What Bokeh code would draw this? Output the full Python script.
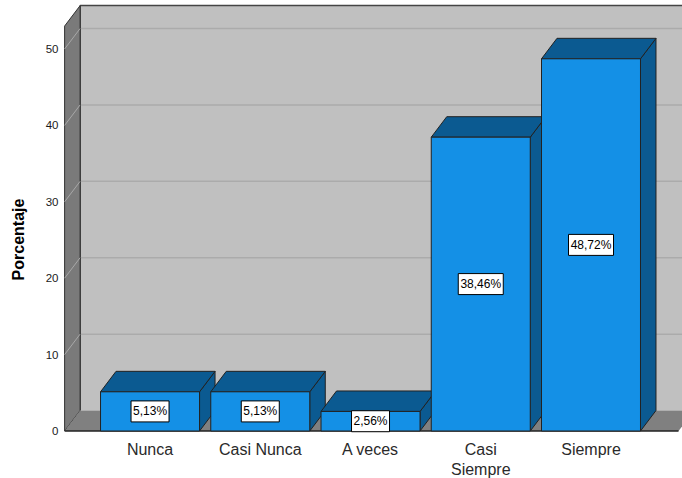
from bokeh.plotting import figure
from bokeh.models import ColumnDataSource, Range1d, FixedTicker
from bokeh.core.properties import value
from bokeh.embed import file_html
from bokeh.resources import INLINE

# ---- data ----
categories = ["Nunca", "Casi Nunca", "A veces", "Casi Siempre", "Siempre"]
tick_text = ["Nunca", "Casi Nunca", "A veces", "Casi\nSiempre", "Siempre"]
percent = [5.13, 5.13, 2.56, 38.46, 48.72]
y_ticks = [0, 10, 20, 30, 40, 50]

# ---- 3D geometry / style ----
W = 0.449        # half bar width (category units)
DX = 0.1406      # depth offset x
DY = 2.68        # depth offset y (value units)
X0 = -0.775      # front-left of side wall
XR = 4.794       # front-right of floor
XE = 5.2         # beyond right edge
WALL = 53.0      # wall height
LABEL_Y = -1.35  # top of category labels (value units, below floor)

FRONT = "#1490e6"
DARK = "#0b5a91"
EDGE = "#222222"
FONT = "Liberation Sans"

p = figure(width=682, height=478, output_backend="svg", toolbar_location=None,
           x_range=Range1d(-0.785, 4.830), y_range=Range1d(-6.217, 56.35),
           min_border_left=63, min_border_right=0, min_border_top=0,
           min_border_bottom=0)
p.outline_line_color = None
p.grid.visible = False
p.background_fill_color = "white"
p.xaxis.visible = False

# back wall
p.quad(left=X0 + DX, right=XE, bottom=DY, top=WALL + DY,
       fill_color="#c0c0c0", line_color=None)
# back wall grid lines
for t in y_ticks[1:]:
    p.segment(x0=X0 + DX, y0=t + DY, x1=XE, y1=t + DY,
              line_color="#ababab", line_width=1.5)
# back wall top edge and left edge
p.segment(x0=X0 + DX, y0=WALL + DY, x1=XE, y1=WALL + DY,
          line_color="#444444", line_width=1.5)
p.segment(x0=X0 + DX, y0=DY, x1=X0 + DX, y1=WALL + DY,
          line_color="#333333", line_width=1.5)

# side wall
p.patch(x=[X0, X0, X0 + DX, X0 + DX], y=[0, WALL, WALL + DY, DY],
        fill_color="#7a7a7a", line_color="#333333", line_width=1)
for t in y_ticks[1:]:
    p.segment(x0=X0, y0=t, x1=X0 + DX, y1=t + DY,
              line_color="#a8a8a8", line_width=1)

# floor
p.patch(x=[X0, XR, XR + DX, X0 + DX], y=[0, 0, DY, DY],
        fill_color="#808080", line_color=None)
p.segment(x0=X0, y0=0, x1=XR, y1=0, line_color="#222222", line_width=1.5)

# ---- bars ----
xs = list(range(len(categories)))
side_xs, side_ys, top_xs, top_ys = [], [], [], []
for i, v in zip(xs, percent):
    side_xs.append([i + W, i + W + DX, i + W + DX, i + W])
    side_ys.append([0, DY, v + DY, v])
    top_xs.append([i - W, i + W, i + W + DX, i - W + DX])
    top_ys.append([v, v, v + DY, v + DY])

p.patches(xs=side_xs, ys=side_ys, fill_color=DARK, line_color=EDGE, line_width=1)
p.patches(xs=top_xs, ys=top_ys, fill_color=DARK, line_color=EDGE, line_width=1)
p.quad(left=[i - W for i in xs], right=[i + W for i in xs],
       bottom=0, top=percent, fill_color=FRONT, line_color=EDGE, line_width=1)

# ---- value labels ----
labels = [f"{v:.2f}".replace(".", ",") + "%" for v in percent]
lab_src = ColumnDataSource(dict(
    x=xs, y=[v / 2 for v in percent], text=labels,
    w=[7 * len(s) + 3 for s in labels]))
p.rect(x="x", y="y", width="w", height=21, width_units="screen",
       height_units="screen", source=lab_src, fill_color="white",
       line_color="black", line_width=1)
p.text(x="x", y="y", text="text", source=lab_src, text_align="center",
       text_baseline="middle", text_font=value(FONT), text_font_size="12px",
       text_color="black")

# ---- category labels ----
cat_src = ColumnDataSource(dict(x=xs, y=[LABEL_Y] * len(xs), text=tick_text))
p.text(x="x", y="y", text="text", source=cat_src, text_align="center",
       text_baseline="top", text_font=value(FONT), text_font_size="16px",
       text_color="#2a2a2a", text_line_height=1.15)

# ---- y axis ----
p.yaxis.ticker = FixedTicker(ticks=y_ticks)
p.yaxis.axis_line_color = None
p.yaxis.major_tick_line_color = None
p.yaxis.major_tick_out = 0
p.yaxis.major_tick_in = 0
p.yaxis.minor_tick_line_color = None
p.yaxis.major_label_standoff = 5
p.yaxis.major_label_text_font = FONT
p.yaxis.major_label_text_font_size = "11.5px"
p.yaxis.major_label_text_color = "#1a1a1a"
p.yaxis.axis_label = "Porcentaje"
p.yaxis.axis_label_text_font = FONT
p.yaxis.axis_label_text_font_style = "bold"
p.yaxis.axis_label_text_font_size = "16px"
p.yaxis.axis_label_text_color = "black"
p.yaxis.axis_label_standoff = 16

open("out.html", "w").write(file_html(p, INLINE))
